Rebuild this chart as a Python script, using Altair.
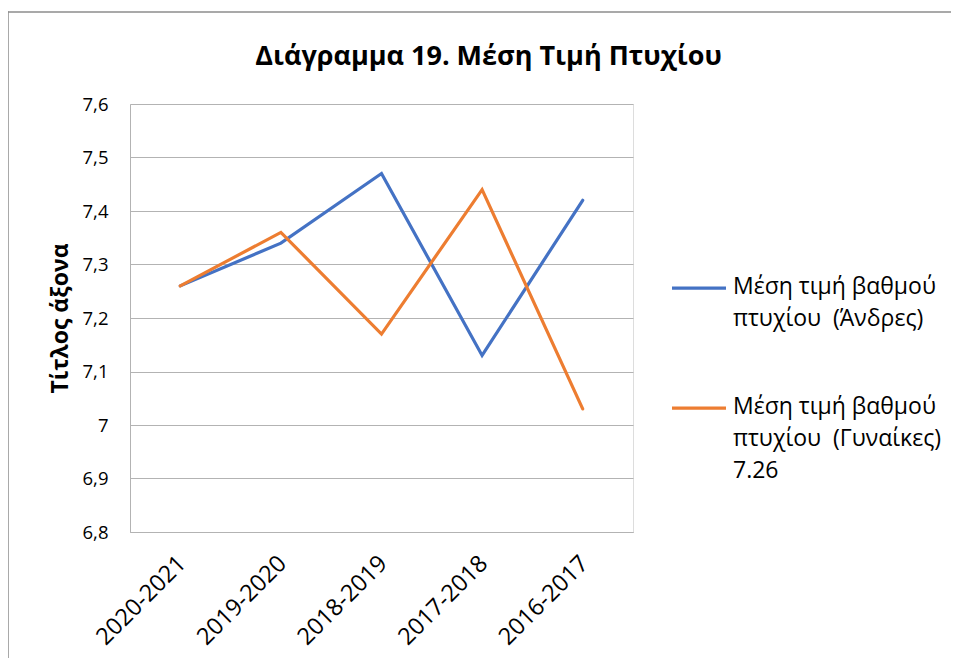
import altair as alt
import pandas as pd

years = ["2020-2021", "2019-2020", "2018-2019", "2017-2018", "2016-2017"]
men = [7.26, 7.34, 7.47, 7.13, 7.42]
women = [7.26, 7.36, 7.17, 7.44, 7.03]
series_names = ["Μέση τιμή βαθμού|πτυχίου\u00a0 (Άνδρες)",
                "Μέση τιμή βαθμού|πτυχίου\u00a0 (Γυναίκες)|7.26"]
series_colors = ["#4472C4", "#ED7D31"]
y_ticks = [6.8, 6.9, 7.0, 7.1, 7.2, 7.3, 7.4, 7.5, 7.6]

rows = []
for name, vals in zip(series_names, [men, women]):
    for yr, v in zip(years, vals):
        rows.append({"year": yr, "value": v, "series": name})
df = pd.DataFrame(rows)

FONT = "Open Sans"
GRID = "#b3b3b3"
FRAME = "#8c8c8c"

lines = alt.Chart(df).mark_line(strokeWidth=3.2, strokeCap="round").encode(
    x=alt.X("year:N", sort=years, title=None,
            scale=alt.Scale(paddingOuter=0.5),
            axis=alt.Axis(labelAngle=-45, labelFontSize=23.5, labelFont=FONT,
                          labelColor="#000000", ticks=False, domain=True,
                          domainColor=GRID, labelPadding=19, labelOffset=-7,
                          grid=False)),
    y=alt.Y("value:Q", title="Τίτλος άξονα",
            scale=alt.Scale(domain=[6.8, 7.6], nice=False, zero=False),
            axis=alt.Axis(values=y_ticks, grid=True, gridColor=GRID,
                          ticks=False, domain=True, domainColor=GRID,
                          labelExpr="replace(format(datum.value, '.2~g'), '.', ',')",
                          labelFontSize=18.5, labelFont=FONT, labelColor="#000000",
                          labelPadding=22, titleFont=FONT, titleFontSize=23,
                          titleFontWeight="bold", titleColor="#000000",
                          titlePadding=10)),
    color=alt.Color("series:N", sort=series_names,
                    scale=alt.Scale(domain=series_names, range=series_colors),
                    legend=alt.Legend(title=None, orient="none",
                                      legendX=540, legendY=143,
                                      symbolType="M-1,0.45L1,0.45",
                                      symbolSize=2916,
                                      symbolStrokeWidth=3.2,
                                      labelFont=FONT, labelFontSize=23,
                                      labelColor="#000000", labelLimit=400,
                                      labelOffset=5, rowPadding=36,
                                      labelBaseline="top",
                                      labelExpr="split(datum.label, '|')")),
)

frame_df = pd.DataFrame({"a": [0]})
frame_left = alt.Chart(frame_df).mark_rect(fill=FRAME, strokeWidth=0).encode(
    x=alt.value(-122.75), x2=alt.value(-121.25), y=alt.value(-92.75), y2=alt.value(600))
frame_top = alt.Chart(frame_df).mark_rect(fill=FRAME, strokeWidth=0).encode(
    x=alt.value(-122.75), x2=alt.value(1000), y=alt.value(-92.75), y2=alt.value(-91.25))

chart = alt.layer(frame_left, frame_top, lines).properties(
    width=503, height=428,
    title=alt.Title("Διάγραμμα 19. Μέση Τιμή Πτυχίου", font=FONT, fontSize=27,
                    fontWeight="bold", color="#000000", anchor="middle",
                    dx=107, offset=0, dy=60),
    autosize=alt.AutoSizeParams(type="none"),
    padding={"left": 122, "top": 96, "right": 318, "bottom": 126},
).configure_view(stroke="transparent").configure(
    style={"guide-label": {"lineHeight": 32}}
)

chart.save("out.html", embed_options={"renderer": "svg", "actions": False})
